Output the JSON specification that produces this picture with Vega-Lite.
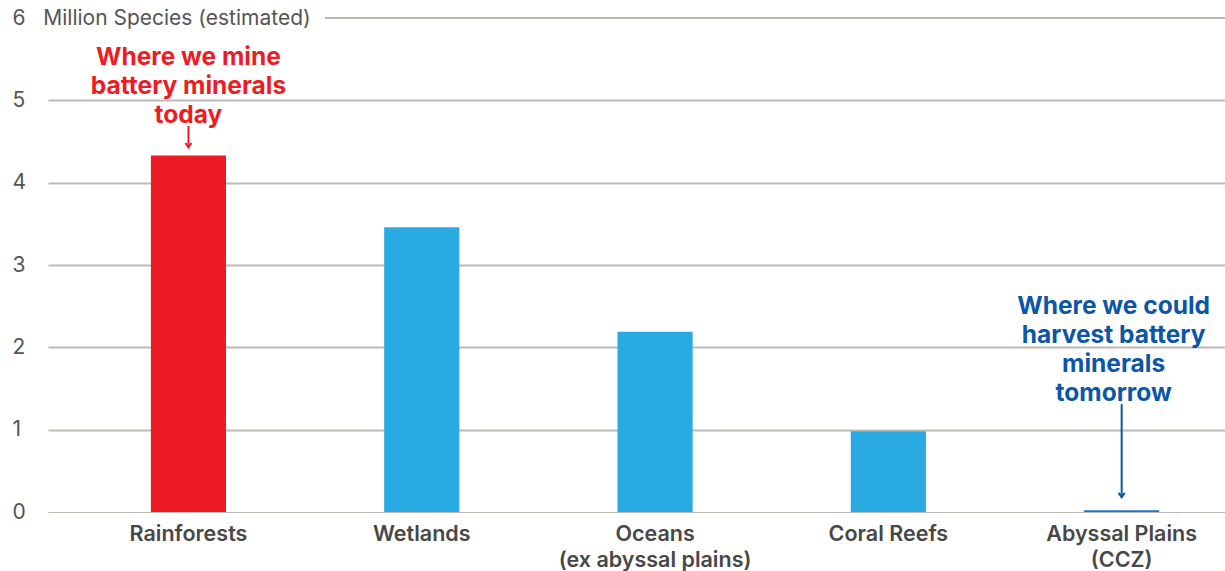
{
  "$schema": "https://vega.github.io/schema/vega-lite/v6.json",
  "width": 1177,
  "height": 494,
  "padding": {"left": 12, "top": 7, "right": 0, "bottom": 0},
  "background": "white",
  "config": {
    "view": {"stroke": null},
    "font": "Inter",
    "axisY": {
      "ticks": false,
      "domain": false,
      "labelAlign": "left",
      "labelPadding": 36,
      "labelFontSize": 21,
      "labelColor": "#555555",
      "labelFont": "Inter",
      "labelLimit": 0,
      "title": null,
      "gridColor": {"condition": {"test": "datum.value === 6", "value": "transparent"}, "value": "#bdb9b5"},
      "gridWidth": {"condition": {"test": "datum.value === 0", "value": 1}, "value": 2}
    },
    "axisX": {
      "ticks": false,
      "domain": false,
      "grid": false,
      "title": null,
      "labelAngle": 0,
      "labelFontSize": 21.5,
      "labelFontWeight": 600,
      "labelColor": "#474747",
      "labelFont": "Inter",
      "labelPadding": 11,
      "labelLineHeight": 26,
      "labelLimit": 0
    }
  },
  "layer": [
    {
      "data": {
        "values": [
          {"habitat": "Rainforests", "species": 4.33},
          {"habitat": "Wetlands", "species": 3.46},
          {"habitat": "Oceans|(ex abyssal plains)", "species": 2.19},
          {"habitat": "Coral Reefs", "species": 0.98},
          {"habitat": "Abyssal Plains|(CCZ)", "species": 0.02}
        ]
      },
      "encoding": {
        "x": {
          "field": "habitat",
          "type": "nominal",
          "sort": null,
          "scale": {"paddingInner": 0.678, "paddingOuter": 0.3615, "align": 0.61},
          "axis": {"labelExpr": "split(datum.label, '|')"}
        },
        "y": {
          "field": "species",
          "type": "quantitative",
          "scale": {"domain": [0, 6], "nice": false},
          "axis": {
            "values": [0, 1, 2, 3, 4, 5, 6],
            "format": "d",
            "labelExpr": "datum.value === 6 ? '6\u00a0\u00a0\u00a0Million Species (estimated)' : datum.label"
          }
        }
      },
      "layer": [
        {
          "mark": {"type": "bar"},
          "encoding": {
            "color": {
              "field": "habitat",
              "type": "nominal",
              "legend": null,
              "scale": {
                "domain": ["Rainforests", "Wetlands", "Oceans|(ex abyssal plains)", "Coral Reefs", "Abyssal Plains|(CCZ)"],
                "range": ["#ED1C24", "#29AAE2", "#29AAE2", "#29AAE2", "#1b75c9"]
              }
            }
          }
        },
        {
          "data": {"values": [{"habitat": "Rainforests", "y": 5.51, "text": "Where we mine\nbattery minerals\ntoday"}]},
          "mark": {"type": "text", "lineBreak": "\n", "fontSize": 24.5, "fontWeight": "bold", "color": "#ED1C24", "lineHeight": 29, "baseline": "middle", "align": "center"},
          "encoding": {
            "y": {"field": "y", "type": "quantitative"},
            "text": {"field": "text"}
          }
        },
        {
          "data": {"values": [{"habitat": "Abyssal Plains|(CCZ)", "y": 2.49, "text": "Where we could\nharvest battery\nminerals\ntomorrow"}]},
          "mark": {"type": "text", "lineBreak": "\n", "fontSize": 24.5, "fontWeight": "bold", "color": "#0b56a6", "lineHeight": 29, "baseline": "middle", "align": "center", "dx": -8},
          "encoding": {
            "y": {"field": "y", "type": "quantitative"},
            "text": {"field": "text"}
          }
        },
        {
          "data": {"values": [
            {"habitat": "Rainforests", "y": 4.69, "y2": 4.43, "who": "red"},
            {"habitat": "Abyssal Plains|(CCZ)", "y": 1.31, "y2": 0.18, "who": "blue"}
          ]},
          "mark": {"type": "rule", "strokeWidth": 2},
          "encoding": {
            "y": {"field": "y", "type": "quantitative"},
            "y2": {"field": "y2"},
            "stroke": {"field": "who", "type": "nominal", "legend": null, "scale": {"domain": ["red", "blue"], "range": ["#ED1C24", "#0b56a6"]}}
          }
        },
        {
          "data": {"values": [
            {"habitat": "Rainforests", "y2": 4.43, "who": "red"},
            {"habitat": "Abyssal Plains|(CCZ)", "y2": 0.18, "who": "blue"}
          ]},
          "mark": {"type": "point", "shape": "M-0.5,-0.7L0,0L0.5,-0.7", "filled": false, "strokeWidth": 2, "size": 150, "opacity": 1},
          "encoding": {
            "y": {"field": "y2", "type": "quantitative"},
            "stroke": {"field": "who", "type": "nominal", "legend": null, "scale": {"domain": ["red", "blue"], "range": ["#ED1C24", "#0b56a6"]}}
          }
        }
      ]
    },
    {
      "data": {"values": [{"start": 0.2353, "end": 1, "level": 6}]},
      "mark": {"type": "rule", "strokeWidth": 2, "color": "#bdb9b5"},
      "encoding": {
        "x": {"field": "start", "type": "quantitative", "scale": {"domain": [0, 1], "nice": false, "zero": false}, "axis": null},
        "x2": {"field": "end"},
        "y": {"field": "level", "type": "quantitative"}
      }
    }
  ],
  "resolve": {"scale": {"x": "independent", "color": "independent"}}
}
